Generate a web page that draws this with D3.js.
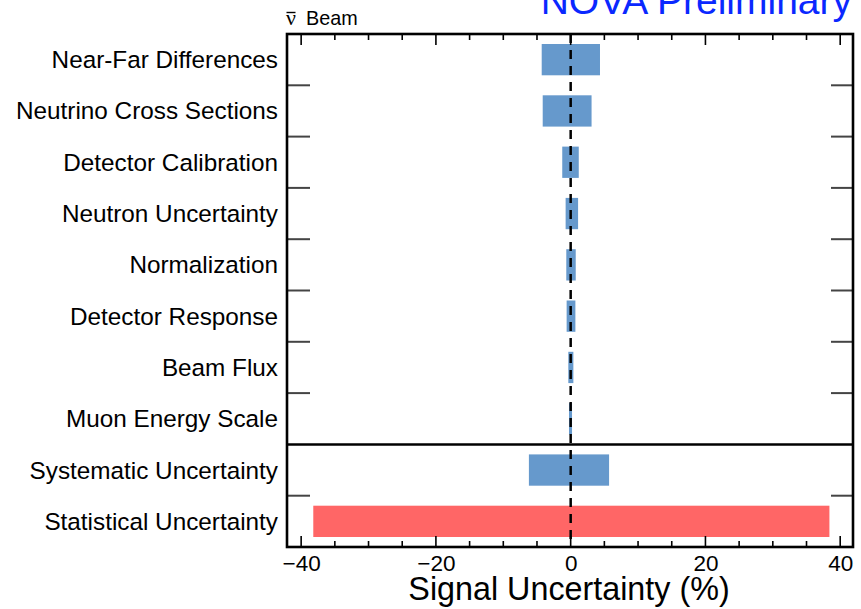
<!DOCTYPE html>
<html>
<head>
<meta charset="utf-8">
<script src="https://cdn.jsdelivr.net/npm/d3@7"></script>
<style>
  html, body { margin: 0; padding: 0; background: #fff; }
  svg { display: block; }
  text { font-family: "Liberation Sans", Arial, Helvetica, sans-serif; fill: #000; }
</style>
</head>
<body>
<svg id="chart" width="861" height="609"></svg>
<script>
// Uncertainty sources, top to bottom
const categories = [
  "Near-Far Differences",
  "Neutrino Cross Sections",
  "Detector Calibration",
  "Neutron Uncertainty",
  "Normalization",
  "Detector Response",
  "Beam Flux",
  "Muon Energy Scale",
  "Systematic Uncertainty",
  "Statistical Uncertainty"
];
// Downward and upward shifts of the signal (%)
const lowValues  = [-4.3, -4.15, -1.25, -0.75, -0.65, -0.6, -0.35, -0.25, -6.2, -38.2];
const highValues = [ 4.35, 3.1,   1.2,   1.1,   0.75,  0.7,  0.4,   0.2,   5.7,  38.4];
const barGroups  = ["syst", "syst", "syst", "syst", "syst", "syst", "syst", "syst", "syst", "stat"];
const majorTicks = [-40, -20, 0, 20, 40];
const minorTicks = d3.range(-40, 41, 5);

const svg = d3.select("#chart");
const frameLeft = 287, frameRight = 853, frameTop = 34, frameBottom = 547;

const x = d3.scaleLinear().domain([-42.1, 41.9]).range([frameLeft, frameRight]);
const y = d3.scaleBand().domain(categories).range([frameTop, frameBottom])
  .paddingInner(0.39).paddingOuter(0.195);
const step = y.step();
const colour = { syst: "#6699cc", stat: "#ff6666" };

// Bars
svg.append("g").selectAll("rect")
  .data(categories)
  .join("rect")
  .attr("x", (d, i) => x(lowValues[i]))
  .attr("width", (d, i) => x(highValues[i]) - x(lowValues[i]))
  .attr("y", d => y(d))
  .attr("height", y.bandwidth())
  .attr("fill", (d, i) => colour[barGroups[i]]);

// Category boundary ticks on both sides; full rule between the component and total blocks
const boundaries = d3.range(1, categories.length);
const tickG = svg.append("g");
boundaries.forEach(k => {
  const yy = frameTop + k * step;
  if (k === 8) {
    tickG.append("line").attr("x1", frameLeft).attr("x2", frameRight)
      .attr("y1", yy).attr("y2", yy).attr("stroke", "#000").attr("stroke-width", 2.5);
  } else {
    tickG.append("line").attr("x1", frameLeft).attr("x2", frameLeft + 23)
      .attr("y1", yy).attr("y2", yy).attr("stroke", "#444").attr("stroke-width", 2);
    tickG.append("line").attr("x1", frameRight - 22).attr("x2", frameRight)
      .attr("y1", yy).attr("y2", yy).attr("stroke", "#444").attr("stroke-width", 2);
  }
});

// Horizontal axis labels
const axisBottom = d3.axisBottom(x).tickValues(majorTicks).tickSize(0)
  .tickFormat(d => d < 0 ? "\u2212" + Math.abs(d) : String(d));
const gx = svg.append("g").attr("transform", `translate(0,${frameBottom})`).call(axisBottom);
gx.select(".domain").remove();
gx.selectAll("text").attr("y", 24).attr("dy", 0).attr("fill", "#000")
  .style("font-size", "22.5px").style("font-family", '"Liberation Sans", Arial, sans-serif');

// Major and minor ticks, bottom and top
const xt = svg.append("g");
minorTicks.forEach(v => {
  const len = majorTicks.includes(v) ? 11 : 6;
  xt.append("line").attr("x1", x(v)).attr("x2", x(v))
    .attr("y1", frameBottom).attr("y2", frameBottom - len).attr("stroke", "#000").attr("stroke-width", 1.6);
  xt.append("line").attr("x1", x(v)).attr("x2", x(v))
    .attr("y1", frameTop).attr("y2", frameTop + len).attr("stroke", "#000").attr("stroke-width", 1.6);
});

// Zero line
svg.append("line")
  .attr("x1", x(0)).attr("x2", x(0)).attr("y1", frameTop).attr("y2", frameBottom)
  .attr("stroke", "#000").attr("stroke-width", 2.5).attr("stroke-dasharray", "9,7");

// Frame
svg.append("rect").attr("x", frameLeft).attr("y", frameTop)
  .attr("width", frameRight - frameLeft).attr("height", frameBottom - frameTop)
  .attr("fill", "none").attr("stroke", "#000").attr("stroke-width", 2.6);

// Category labels
svg.append("g").selectAll("text")
  .data(categories)
  .join("text")
  .attr("x", 278)
  .attr("y", d => y(d) + y.bandwidth() / 2 + 8.5)
  .attr("text-anchor", "end")
  .style("font-size", "24.3px")
  .text(d => d);

// Axis title
svg.append("text")
  .attr("x", 569).attr("y", 600)
  .attr("text-anchor", "middle")
  .style("font-size", "32.3px")
  .text("Signal Uncertainty (%)");

// Beam mode label (anti-neutrino)
const nu = svg.append("text")
  .attr("x", 286).attr("y", 24.5)
  .style("font-size", "22px")
  .style("font-family", '"Liberation Serif", "DejaVu Serif", serif')
  .text("\u03bd");
const nb = nu.node().getBBox();
svg.append("line")
  .attr("x1", nb.x + 0.5).attr("x2", nb.x + nb.width - 0.5)
  .attr("y1", 12.5).attr("y2", 12.5)
  .attr("stroke", "#000").attr("stroke-width", 1.4);
svg.append("text")
  .attr("x", 306).attr("y", 24.5)
  .style("font-size", "19.8px")
  .text("Beam");

// Preliminary tag
svg.append("text")
  .attr("x", 852).attr("y", 14)
  .attr("text-anchor", "end")
  .style("font-size", "39px")
  .style("fill", "#0a28ff")
  .text("NOVA Preliminary");
</script>
</body>
</html>
